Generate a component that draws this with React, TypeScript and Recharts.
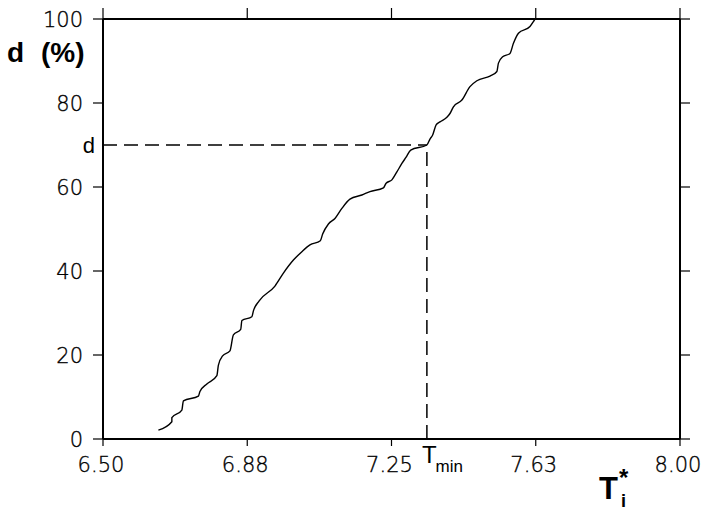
import React from 'react';
import { LineChart, Line, XAxis, YAxis, ReferenceLine } from 'recharts';

// cumulative share d (%) against T*_i
const tValues = [
  6.644, 6.679, 6.679, 6.705, 6.709, 6.748, 6.752, 6.770, 6.796, 6.800,
  6.811, 6.830, 6.839, 6.858, 6.861, 6.887, 6.891, 6.906, 6.947, 6.969,
  6.995, 7.017, 7.038, 7.065, 7.071, 7.086, 7.103, 7.121, 7.142, 7.173,
  7.194, 7.229, 7.236, 7.251, 7.264, 7.277, 7.288, 7.300, 7.342, 7.350,
  7.357, 7.366, 7.376, 7.394, 7.402, 7.411, 7.433, 7.454, 7.472, 7.506,
  7.524, 7.528, 7.539, 7.558, 7.567, 7.580, 7.610, 7.619, 7.623,
];
const dValues = [
  2.1, 4.1, 5.1, 6.9, 9.1, 10.2, 11.3, 13.1, 15.1, 17.6,
  19.8, 21.0, 24.8, 26.1, 28.2, 29.1, 30.5, 32.9, 36.4, 39.5,
  42.6, 44.6, 46.2, 47.2, 48.8, 51.2, 52.5, 54.9, 57.1, 58.1,
  58.9, 59.8, 60.9, 61.7, 63.6, 65.6, 67.1, 68.8, 70.0, 71.4,
  72.4, 74.8, 75.5, 76.6, 77.5, 79.1, 80.7, 83.9, 85.3, 86.4,
  87.5, 89.5, 91.0, 91.8, 94.2, 96.6, 98.2, 99.4, 100,
];

const T_MIN = 7.342;
const D_LEVEL = 70;

const xTicks = [6.5, 6.875, 7.25, 7.625, 8.0];
const xTickLabels = ['6.50', '6.88', '7.25', '7.63', '8.00'];
const yTicks = [0, 20, 40, 60, 80, 100];

const data = tValues.map((t, i) => ({ t, d: dValues[i] }));

const THIN = '"DejaVu Sans", "Liberation Sans", sans-serif';
const BOLD = '"Liberation Sans", Arial, sans-serif';

const BottomTick = (props: any) => {
  const { x, y, payload } = props;
  const idx = xTicks.indexOf(payload.value);
  return (
    <text x={x - 2} y={y + 26} textAnchor="middle" fontSize={21} fontWeight={200} fontFamily={THIN}
      fill="#000" stroke="#000" strokeWidth={0.35}>
      {xTickLabels[idx]}
    </text>
  );
};

const LeftTick = (props: any) => {
  const { x, y, payload } = props;
  return (
    <text x={x - 10} y={y + 8} textAnchor="end" fontSize={21} fontWeight={200} fontFamily={THIN}
      fill="#000" stroke="#000" strokeWidth={0.35}>
      {payload.value}
    </text>
  );
};

const NoTick = () => <g />;

const DLabel = (props: any) => {
  const { viewBox } = props;
  return (
    <text x={viewBox.x - 8} y={viewBox.y + 8} textAnchor="end" fontSize={22} fontWeight={400} fontFamily={BOLD} fill="#000">
      d
    </text>
  );
};

const TminLabel = (props: any) => {
  const { viewBox } = props;
  const bottom = viewBox.y + viewBox.height;
  return (
    <text x={viewBox.x - 5} y={bottom + 24} fontFamily={BOLD} fill="#000">
      <tspan fontSize={24}>T</tspan>
      <tspan fontSize={17} dy={9} dx={-1}>min</tspan>
    </text>
  );
};

const axisLine = { stroke: '#000', strokeWidth: 2 };
const tickLine = { stroke: '#000', strokeWidth: 1.2 };

export default function App() {
  return (
    <div style={{ position: 'absolute', left: 0, top: 0, width: 705, height: 512, background: '#fff' }}>
      <LineChart
        width={705}
        height={512}
        data={data}
        margin={{ top: 7, right: 15, bottom: 33, left: 43 }}
      >
        <XAxis
          dataKey="t"
          type="number"
          domain={[6.5, 8]}
          allowDataOverflow
          ticks={xTicks}
          interval={0}
          height={40}
          tickSize={7}
          tickMargin={0}
          tickLine={tickLine}
          axisLine={axisLine}
          tick={<BottomTick />}
        />
        <XAxis
          xAxisId="top"
          dataKey="t"
          orientation="top"
          type="number"
          domain={[6.5, 8]}
          allowDataOverflow
          ticks={xTicks}
          interval={0}
          height={12}
          tickSize={11}
          tickLine={tickLine}
          axisLine={axisLine}
          tick={<NoTick />}
        />
        <YAxis
          type="number"
          domain={[0, 100]}
          allowDataOverflow
          ticks={yTicks}
          interval={0}
          width={60}
          tickSize={10}
          tickMargin={0}
          tickLine={tickLine}
          axisLine={axisLine}
          tick={<LeftTick />}
        />
        <YAxis
          yAxisId="right"
          orientation="right"
          type="number"
          domain={[0, 100]}
          allowDataOverflow
          ticks={yTicks}
          interval={0}
          width={10}
          tickSize={10}
          tickLine={tickLine}
          axisLine={axisLine}
          tick={<NoTick />}
        />
        <ReferenceLine
          segment={[{ x: 6.5, y: D_LEVEL }, { x: T_MIN, y: D_LEVEL }]}
          stroke="#000"
          strokeWidth={1.5}
          strokeDasharray="14 7"
          label={<DLabel />}
        />
        <ReferenceLine
          segment={[{ x: T_MIN, y: 0 }, { x: T_MIN, y: D_LEVEL }]}
          stroke="#000"
          strokeWidth={1.5}
          strokeDasharray="14 7"
          label={<TminLabel />}
        />
        <Line
          type="monotone"
          dataKey="d"
          stroke="#000"
          strokeWidth={1.4}
          dot={false}
          isAnimationActive={false}
        />
      </LineChart>
      <svg width={705} height={512} style={{ position: 'absolute', left: 0, top: 0, pointerEvents: 'none' }}>
        <text x={7} y={62} fontSize={28} fontWeight={700} fontFamily={BOLD} fill="#000">d</text>
        <text x={41} y={62} fontSize={28} fontWeight={700} fontFamily={BOLD} fill="#000">(%)</text>
        <text x={599} y={499} fontSize={31} fontWeight={700} fontFamily={BOLD} fill="#000">T</text>
        <text x={619} y={486} fontSize={24} fontWeight={700} fontFamily={BOLD} fill="#000">*</text>
        <text x={621} y={507} fontSize={18} fontWeight={700} fontFamily={BOLD} fill="#000">i</text>
      </svg>
    </div>
  );
}
